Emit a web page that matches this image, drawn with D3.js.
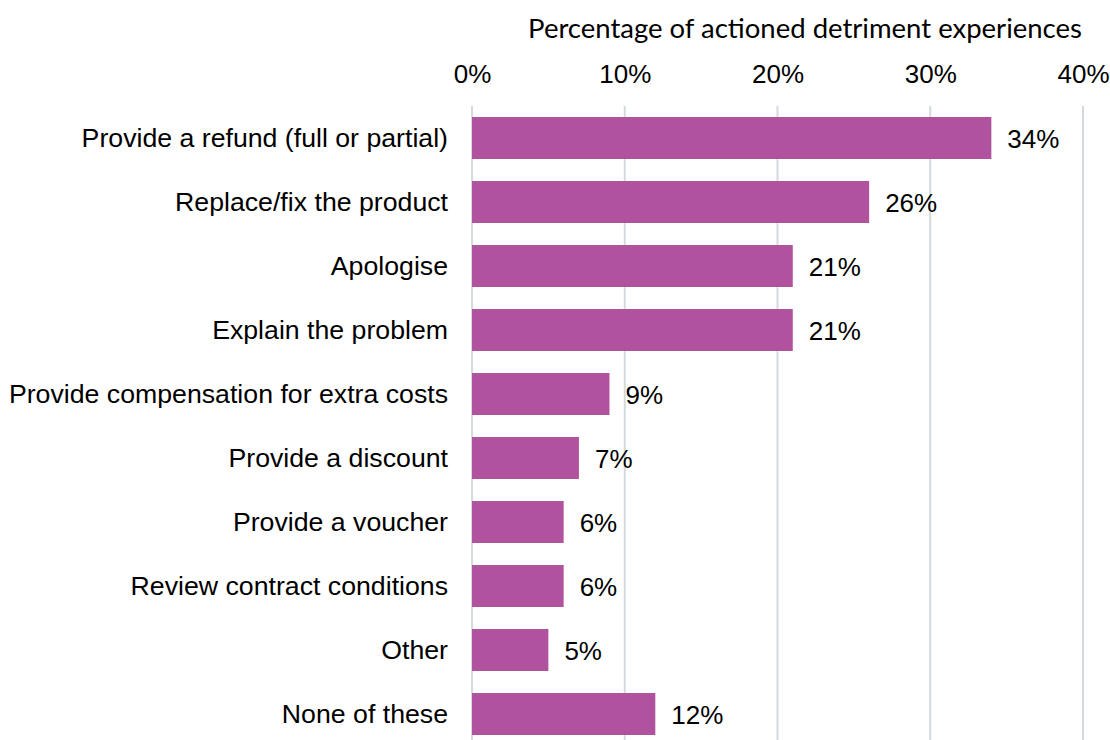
<!DOCTYPE html>
<html>
<head>
<meta charset="utf-8">
<script src="https://cdn.jsdelivr.net/npm/d3@7"></script>
<style>
  html, body { margin: 0; padding: 0; background: #ffffff; }
  svg { display: block; }
</style>
</head>
<body>
<svg id="chart" width="1110" height="740"></svg>
<script>
// Actions taken by businesses in response to detriment experiences
const categories = [
  "Provide a refund (full or partial)",
  "Replace/fix the product",
  "Apologise",
  "Explain the problem",
  "Provide compensation for extra costs",
  "Provide a discount",
  "Provide a voucher",
  "Review contract conditions",
  "Other",
  "None of these"
];
const values = [34, 26, 21, 21, 9, 7, 6, 6, 5, 12];
const tickValues = [0, 10, 20, 30, 40];
const axisTitle = "Percentage of actioned detriment experiences";

const svg = d3.select("#chart");
const barColor = "#b0529e";
const gridColor = "#d3dadd";
const sansFont = "'Liberation Sans', Arial, sans-serif";

const x = d3.scaleLinear().domain([0, 40]).range([472, 1083]);
const y = d3.scaleBand()
  .domain(categories)
  .range([106, 746])
  .paddingInner(0.344)
  .paddingOuter(0.172);

// Vertical gridlines
svg.append("g")
  .selectAll("line")
  .data(tickValues)
  .join("line")
  .attr("x1", d => x(d))
  .attr("x2", d => x(d))
  .attr("y1", 106)
  .attr("y2", 740)
  .attr("stroke", gridColor)
  .attr("stroke-width", 2);

// Top axis tick labels
const xAxis = d3.axisTop(x)
  .tickValues(tickValues)
  .tickFormat(d => d + "%")
  .tickSize(0)
  .tickPadding(0);
const gx = svg.append("g")
  .attr("transform", "translate(0,83)")
  .call(xAxis);
gx.select(".domain").remove();
gx.selectAll("text")
  .attr("font-family", sansFont)
  .attr("font-size", 26)
  .attr("fill", "#000");

// Axis title
svg.append("text")
  .attr("x", 805)
  .attr("y", 38)
  .attr("text-anchor", "middle")
  .attr("font-family", "Lato, Carlito, Calibri, sans-serif")
  .attr("font-size", 27.5)
  .attr("fill", "#000")
  .text(axisTitle);

// Bars
svg.append("g")
  .selectAll("rect")
  .data(values)
  .join("rect")
  .attr("x", x(0))
  .attr("y", (d, i) => y(categories[i]))
  .attr("width", d => x(d) - x(0))
  .attr("height", y.bandwidth())
  .attr("fill", barColor);

// Category labels
const yAxis = d3.axisLeft(y).tickSize(0).tickPadding(24);
const gy = svg.append("g")
  .attr("transform", `translate(${x(0)},0)`)
  .call(yAxis);
gy.select(".domain").remove();
gy.selectAll("text")
  .attr("font-family", sansFont)
  .attr("font-size", 26.7)
  .attr("fill", "#000");

// Value labels
svg.append("g")
  .selectAll("text")
  .data(values)
  .join("text")
  .attr("x", d => x(d) + 16)
  .attr("y", (d, i) => y(categories[i]) + y.bandwidth() / 2 + 1)
  .attr("dy", "0.35em")
  .attr("font-family", sansFont)
  .attr("font-size", 26)
  .attr("fill", "#000")
  .text(d => d + "%");
</script>
</body>
</html>
